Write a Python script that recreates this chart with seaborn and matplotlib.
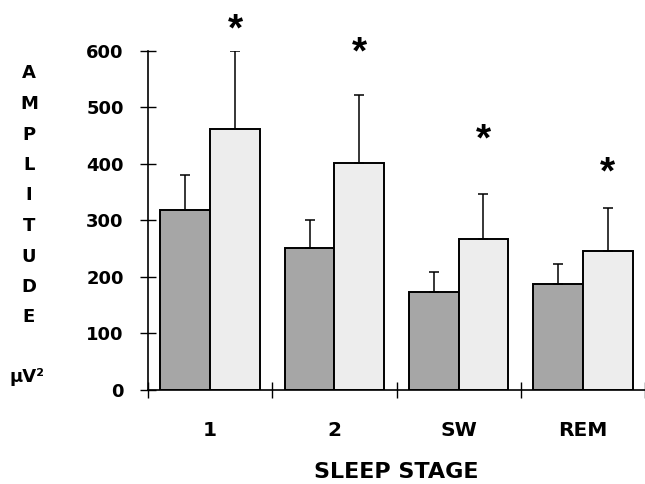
import matplotlib
matplotlib.use("Agg")
import matplotlib.pyplot as plt
import seaborn as sns
import pandas as pd
import numpy as np

stages = ["1", "2", "SW", "REM"]
group_names = ["A", "B"]
values_a = [318, 251, 174, 187]
values_b = [461, 402, 267, 245]
err_a = [62, 50, 35, 36]
err_b = [138, 120, 79, 76]
star_heights = [636, 595, 441, 383]
y_ticks = [0, 100, 200, 300, 400, 500, 600]
ylabel_letters = list("AMPLITUDE")

df = pd.DataFrame({
    "stage": stages * 2,
    "group": [group_names[0]] * 4 + [group_names[1]] * 4,
    "value": values_a + values_b,
})

sns.set_theme(style="white")
plt.rcParams["font.family"] = ["DejaVu Sans"]
plt.rcParams["text.color"] = "black"
plt.rcParams["axes.labelcolor"] = "black"
plt.rcParams["xtick.color"] = "black"
plt.rcParams["ytick.color"] = "black"

fig = plt.figure(figsize=(6.45, 4.84), dpi=100)
ax = fig.add_axes([148 / 645, 94 / 484, 1 - 148 / 645, (390 - 50.7) / 484])

sns.barplot(data=df, x="stage", y="value", hue="group", order=stages,
            hue_order=group_names, palette=["#a6a6a6", "#ededed"],
            edgecolor="black", linewidth=1.4, errorbar=None, width=0.8,
            saturation=1, legend=False, ax=ax)

patches = [p for p in ax.patches if p.get_width() > 0]
patches_sorted = sorted(patches, key=lambda p: p.get_x())
errs = []
for i in range(4):
    errs += [err_a[i], err_b[i]]
for p, e in zip(patches_sorted, errs):
    cx = p.get_x() + p.get_width() / 2
    h = p.get_height()
    ax.errorbar([cx], [h], yerr=[[0], [e]], fmt="none", ecolor="black",
                elinewidth=1.1, capsize=3.5, capthick=1.1, zorder=3)

light = patches_sorted[1::2]
for p, sh in zip(light, star_heights):
    cx = p.get_x() + p.get_width() / 2
    ax.text(cx, sh, "*", ha="center", va="center", fontsize=28,
            fontweight="bold", family=["Liberation Sans", "DejaVu Sans"],
            color="black", clip_on=False)

ax.set_ylim(0, 600)
ax.set_xlim(-0.5, 3.5)
ax.set_yticks(y_ticks)
ax.set_yticklabels([str(t) for t in y_ticks], fontsize=13, fontweight="bold")
ax.set_xticks(range(4))
ax.set_xticklabels(stages, fontsize=14.5, fontweight="bold")
ax.set_xticks([-0.5, 0.5, 1.5, 2.5, 3.5], minor=True)
ax.tick_params(axis="x", which="major", length=0, pad=22)
ax.tick_params(axis="x", which="minor", length=12, width=1, direction="inout",
               bottom=True, color="black")
ax.tick_params(axis="y", which="major", length=12, width=1, direction="inout",
               left=True, color="black", pad=11.5)
ax.set_xlabel("SLEEP STAGE", fontsize=16, fontweight="bold", labelpad=16)
ax.set_ylabel("")
for s in ["top", "right"]:
    ax.spines[s].set_visible(False)
for s in ["left", "bottom"]:
    ax.spines[s].set_color("black")
    ax.spines[s].set_linewidth(1.2)

for i, ch in enumerate(ylabel_letters):
    fig.text(29 / 645, 1 - (73.5 + i * 30.5) / 484, ch, ha="center",
             va="center", fontsize=13, fontweight="bold")
fig.text(27 / 645, 1 - 377 / 484, "µV²", ha="center", va="center",
         fontsize=13, fontweight="bold")

fig.savefig("out.png", dpi=100)
